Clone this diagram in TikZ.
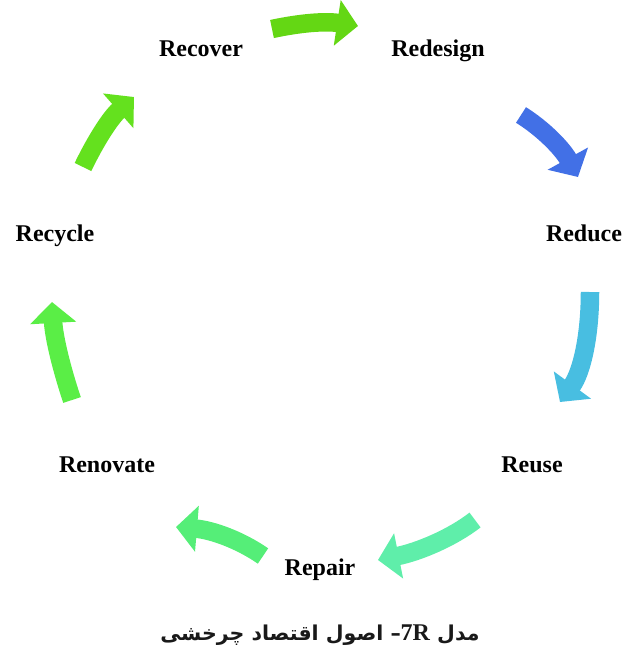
\documentclass[tikz,border=0pt]{standalone}
\usepackage{fontspec}
\setmainfont{Liberation Serif}
\newfontfamily\arabicfont[Script=Arabic]{DejaVu Sans}
\TeXXeTstate=1
\usetikzlibrary{arrows.meta}
\definecolor{cA}{RGB}{100,215,20}
\definecolor{cB}{RGB}{66,112,230}
\definecolor{cC}{RGB}{72,190,225}
\definecolor{cD}{RGB}{95,238,170}
\definecolor{cE}{RGB}{85,238,120}
\definecolor{cF}{RGB}{90,238,70}
\definecolor{cG}{RGB}{100,225,30}
\begin{document}
\begin{tikzpicture}[x=1pt,y=-1pt,
  lbl/.style={font=\fontsize{24}{28}\selectfont\bfseries, inner sep=0pt, anchor=base},
  cyc/.style={line width=18.5pt, line cap=butt, -{Triangle[width=45pt,length=21pt]}}]
\useasboundingbox (0,0) rectangle (636,653);
\node[lbl] (recover) at (201,56) {Recover};
\node[lbl] (redesign) at (438,56) {Redesign};
\node[lbl] (reduce) at (584,241) {Reduce};
\node[lbl] (reuse) at (532,472) {Reuse};
\node[lbl] (repair) at (320,575) {Repair};
\node[lbl] (renovate) at (107,472) {Renovate};
\node[lbl] (recycle) at (55,241) {Recycle};
\node[font=\fontsize{20.5}{24}\selectfont, inner sep=0pt, anchor=base, text=black!90] (cap) at (320,640)
  {\arabicfont\bfseries\beginR مدل \beginL{\rmfamily\fontsize{24}{24}\selectfont 7R}\endL– اصول اقتصاد چرخشی\endR};
% arrow end points
\coordinate (a1) at (272,29);  \coordinate (b1) at (358,26);
\coordinate (a2) at (521,115); \coordinate (b2) at (578,177);
\coordinate (a3) at (590,292); \coordinate (b3) at (560,402);
\coordinate (a4) at (475,520); \coordinate (b4) at (378,560);
\coordinate (a5) at (263,556); \coordinate (b5) at (176,527);
\coordinate (a6) at (72,400);  \coordinate (b6) at (52,302);
\coordinate (a7) at (83,167);  \coordinate (b7) at (134,97);
\draw[cyc, cA] (a1) .. controls (300,23) and (325,21) .. (b1);
\draw[cyc, cB] (a2) .. controls (542,128) and (562,148) .. (b2);
\draw[cyc, cC] (a3) .. controls (590,335) and (582,372) .. (b3);
\draw[cyc, cD] (a4) .. controls (452,538) and (418,552) .. (b4);
\draw[cyc, cE] (a5) .. controls (240,540) and (212,530) .. (b5);
\draw[cyc, cF] (a6) .. controls (62,370) and (54,338) .. (b6);
\draw[cyc, cG] (a7) .. controls (95,142) and (110,118) .. (b7);
\end{tikzpicture}
\end{document}
